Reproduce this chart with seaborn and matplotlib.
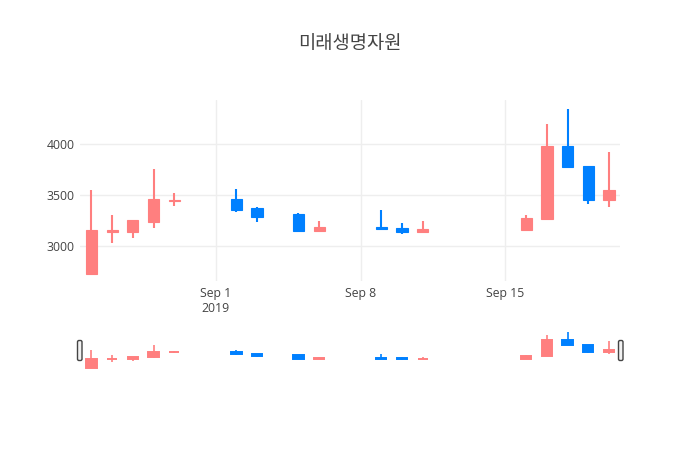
import matplotlib
matplotlib.use("Agg")
import matplotlib.pyplot as plt
import matplotlib.dates as mdates
from matplotlib.patches import FancyBboxPatch
import pandas as pd
import seaborn as sns

# daily prices
dates = ["2019-08-26", "2019-08-27", "2019-08-28", "2019-08-29", "2019-08-30",
         "2019-09-02", "2019-09-03", "2019-09-05", "2019-09-06",
         "2019-09-09", "2019-09-10", "2019-09-11",
         "2019-09-16", "2019-09-17", "2019-09-18", "2019-09-19", "2019-09-20"]
opens = [2730, 3145, 3145, 3235, 3440, 3465, 3375, 3320, 3150,
         3185, 3175, 3140, 3155, 3270, 3985, 3790, 3455]
highs = [3550, 3310, 3250, 3760, 3520, 3560, 3390, 3325, 3250,
         3360, 3230, 3250, 3310, 4200, 4345, 3790, 3925]
lows = [2730, 3030, 3080, 3175, 3395, 3335, 3240, 3150, 3150,
        3170, 3120, 3140, 3155, 3270, 3775, 3410, 3385]
closes = [3160, 3160, 3255, 3460, 3455, 3360, 3290, 3150, 3190,
          3170, 3140, 3170, 3280, 3985, 3775, 3455, 3550]

tick_dates = ["2019-09-01", "2019-09-08", "2019-09-15"]
tick_labels = ["Sep 1\n2019", "Sep 8", "Sep 15"]
y_ticks = [3000, 3500, 4000]

title = "미래생명자원"

df = pd.DataFrame({"date": pd.to_datetime(dates), "open": opens, "high": highs,
                   "low": lows, "close": closes})
df["x"] = mdates.date2num(df["date"])

up_color = "#ff7f7f"
down_color = "#0080ff"

sns.set_theme(style="white")
plt.rcParams["font.family"] = ["Open Sans", "Noto Sans CJK KR", "DejaVu Sans"]

fig = plt.figure(figsize=(7, 4.5), dpi=100)
ax = fig.add_axes([80 / 700, 169 / 450, 540 / 700, 181 / 450])
slider = fig.add_axes([80 / 700, 80 / 450, 540 / 700, 40 / 450])

x0 = mdates.date2num(pd.Timestamp(dates[0])) - 0.55
x1 = mdates.date2num(pd.Timestamp(dates[-1])) + 0.53
y0, y1 = 2660, 4434


def draw_candles(a, wick_lw, edge_lw, width):
    for _, r in df.iterrows():
        c = up_color if r["close"] > r["open"] else down_color
        a.vlines(r["x"], r["low"], r["high"], color=c, lw=wick_lw, zorder=3)
        a.bar(r["x"], r["close"] - r["open"], bottom=r["open"], width=width,
              color=c, edgecolor=c, linewidth=edge_lw, zorder=4)
    a.set_xlim(x0, x1)
    a.set_ylim(y0, y1)
    for s in a.spines.values():
        s.set_visible(False)


draw_candles(ax, 1.5, 0.8, 0.54)
draw_candles(slider, 1.2, 1.4, 0.5)

ax.set_xticks(mdates.date2num(pd.to_datetime(tick_dates)))
ax.set_xticklabels(tick_labels, fontsize=8.8, color="#444444", linespacing=1.2)
ax.set_yticks(y_ticks)
ax.set_yticklabels([str(v) for v in y_ticks], fontsize=8.8, color="#444444")
ax.tick_params(length=0, pad=4)
ax.grid(True, color="#eeeeee", lw=1)
ax.set_axisbelow(True)

slider.set_xticks([])
slider.set_yticks([])
slider.patch.set_alpha(0)

# range slider grips
for px in (77.5, 618.5):
    grip = FancyBboxPatch((px, 450 - 360.5), 4.5, 20,
                          boxstyle="round,pad=0,rounding_size=1.5",
                          facecolor="#f2f2f2", edgecolor="#444444", lw=1,
                          transform=None)
    fig.add_artist(grip)

fig.text(0.5, 1 - 44 / 450, title, ha="center", va="center",
         fontsize=13.5, color="#444444", family=["Noto Sans CJK KR", "DejaVu Sans"])

fig.savefig("out.png", dpi=100)
